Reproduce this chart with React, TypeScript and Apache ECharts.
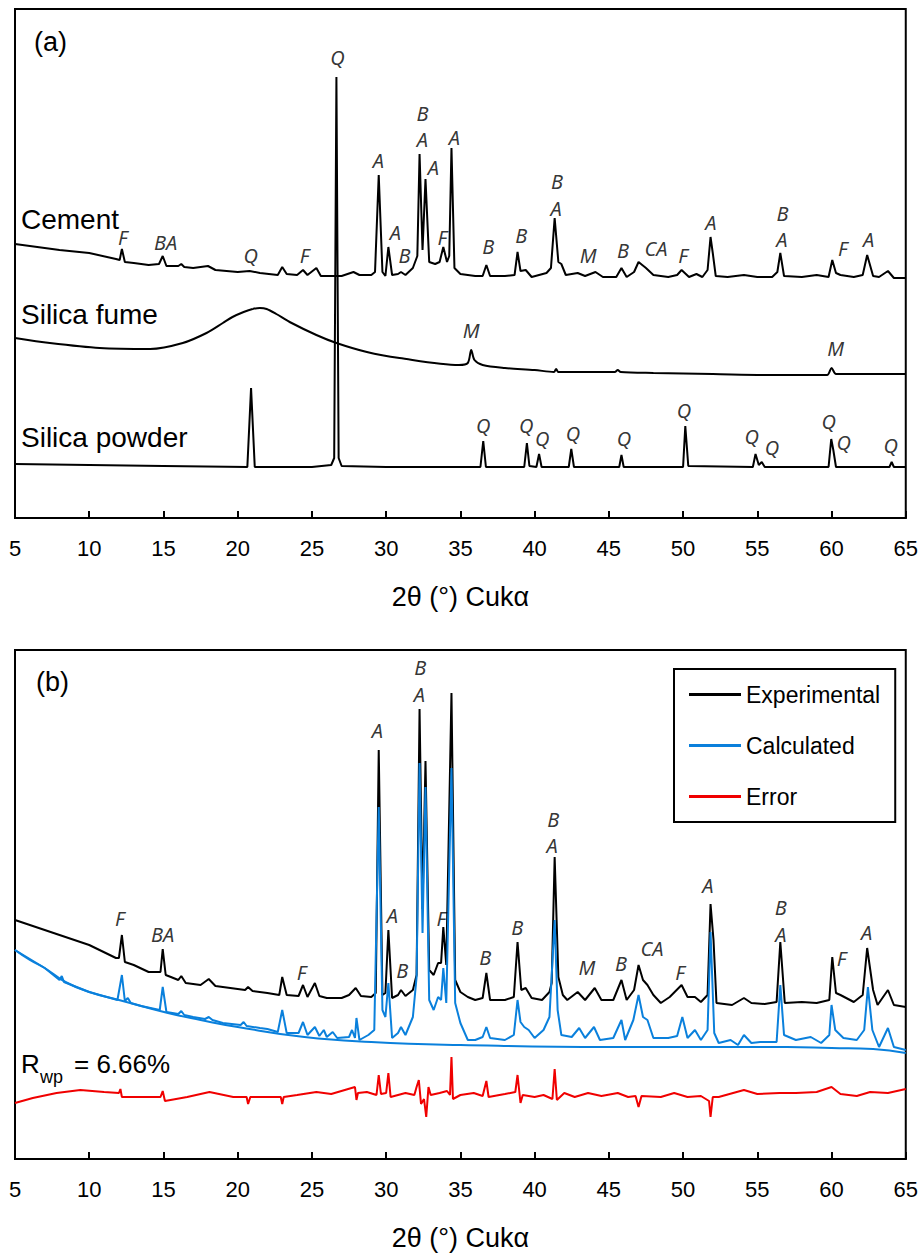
import React, { useEffect, useRef } from "react";
import * as echarts from "echarts";

// ---------- Panel (a) patterns: [2θ, intensity (a.u.)] ----------
const cement: number[][] = [
  [5.0, 274], [6.5, 271], [8.0, 268], [10.0, 265], [11.8, 259], [12.05, 258], [12.2, 269], [12.4, 256], [13.0, 255], [14.0, 253],
  [14.7, 254], [14.95, 262], [15.2, 252], [16.0, 252], [16.2, 254], [16.4, 251], [17.0, 250], [18.0, 252], [18.5, 248], [20.0, 246],
  [20.8, 247], [21.5, 245], [22.7, 243], [23.0, 251], [23.3, 244], [24.0, 243], [24.4, 248], [24.7, 243], [25.3, 250], [25.6, 242],
  [26.5, 242], [27.0, 242], [27.8, 246], [28.2, 243], [29.0, 243], [29.25, 246], [29.5, 343], [29.75, 246], [29.95, 242], [30.15, 271],
  [30.4, 243], [30.8, 244], [31.0, 246], [31.3, 243], [31.8, 250], [32.1, 262], [32.25, 364], [32.45, 268], [32.65, 339], [32.9, 256],
  [33.3, 254], [33.6, 256], [33.85, 271], [34.1, 256], [34.25, 262], [34.4, 370], [34.6, 250], [35.0, 244], [36.0, 242], [36.5, 242],
  [36.75, 253], [37.0, 242], [38.0, 242], [38.65, 243], [38.85, 266], [39.05, 247], [39.4, 248], [39.8, 241], [40.8, 245], [41.1, 250],
  [41.35, 300], [41.6, 256], [41.8, 254], [42.1, 243], [42.9, 245], [43.4, 242], [44.1, 246], [44.6, 241], [45.5, 241], [45.85, 250],
  [46.2, 241], [46.7, 246], [47.0, 256], [47.5, 250], [48.0, 243], [49.0, 241], [49.6, 243], [49.9, 248], [50.4, 241], [50.9, 244],
  [51.3, 241], [51.65, 248], [51.85, 281], [52.0, 265], [52.2, 242], [53.0, 241], [54.1, 243], [55.0, 241], [56.0, 241], [56.35, 246],
  [56.55, 265], [56.8, 242], [58.0, 241], [59.0, 243], [59.8, 241], [60.05, 258], [60.3, 245], [60.6, 243], [61.5, 241], [62.1, 243],
  [62.4, 263], [62.8, 242], [63.2, 241], [63.8, 247], [64.2, 240], [65.0, 240],
];

const silicaFume: number[][] = [
  [5.0, 180], [7.35, 175], [10.7, 170], [14.1, 169], [16.3, 175], [17.9, 185], [19.0, 195], [19.65, 201], [20.4, 206], [21.0, 209],
  [21.5, 210], [21.95, 209], [22.6, 204], [23.5, 196], [25.3, 183], [26.65, 175], [28.7, 166], [30.9, 160], [34.9, 153], [35.5, 155],
  [35.73, 168], [35.95, 158], [36.5, 153], [38.0, 150], [40.0, 148], [41.3, 146], [41.45, 149], [41.6, 146], [44.0, 146], [45.4, 146],
  [45.6, 148], [45.8, 146], [48.0, 145], [52.0, 144], [56.0, 143], [59.7, 143], [60.0, 150], [60.3, 144], [62.0, 144], [65.0, 144],
];

const silicaPowder: number[][] = [
  [5.0, 54], [10.0, 53], [15.0, 52], [20.65, 51], [20.9, 130], [21.15, 51], [22.0, 51], [25.0, 51], [26.3, 53], [26.5, 60],
  [26.65, 441], [26.8, 60], [27.0, 52], [30.0, 51], [36.35, 51], [36.54, 77], [36.72, 51], [39.3, 51], [39.48, 75], [39.65, 52],
  [40.12, 51], [40.3, 64], [40.47, 51], [42.3, 51], [42.47, 69], [42.65, 51], [45.7, 51], [45.85, 63], [46.0, 51], [50.0, 51],
  [50.15, 92], [50.35, 52], [54.7, 51], [54.88, 64], [55.1, 53], [55.3, 56], [55.5, 51], [59.8, 51], [59.98, 79], [60.12, 68],
  [60.3, 51], [63.9, 51], [64.05, 56], [64.2, 51], [65.0, 51],
];

// ---------- Panel (b) Rietveld refinement: [2θ, intensity (a.u.)] ----------
const experimental: number[][] = [
  [5.0, 239], [6.0, 234], [8.0, 224], [10.0, 214], [11.8, 201], [12.0, 201], [12.2, 224], [12.4, 197], [13.0, 194], [14.0, 187],
  [14.8, 187], [14.95, 210], [15.15, 184], [15.5, 182], [16.0, 179], [16.2, 183], [16.5, 176], [17.5, 174], [18.05, 180], [18.5, 173],
  [19.5, 171], [20.5, 169], [20.7, 172], [21.0, 168], [22.0, 166], [22.8, 164], [23.0, 182], [23.3, 164], [24.1, 163], [24.4, 174],
  [24.7, 162], [25.2, 176], [25.5, 163], [26.0, 161], [27.0, 161], [27.5, 164], [27.95, 171], [28.3, 163], [29.0, 162], [29.3, 166],
  [29.5, 409], [29.75, 164], [29.95, 166], [30.15, 229], [30.4, 161], [30.8, 164], [31.0, 169], [31.3, 163], [31.8, 169], [32.05, 184],
  [32.25, 450], [32.45, 250], [32.65, 398], [32.9, 189], [33.2, 184], [33.5, 196], [33.7, 196], [33.85, 232], [34.05, 194], [34.4, 466],
  [34.65, 179], [35.0, 167], [35.5, 162], [36.0, 159], [36.5, 161], [36.75, 186], [37.0, 159], [38.0, 159], [38.6, 162], [38.85, 217],
  [39.1, 169], [39.4, 171], [39.8, 161], [40.5, 159], [41.0, 167], [41.15, 176], [41.35, 302], [41.6, 182], [41.9, 164], [42.2, 159],
  [42.9, 167], [43.4, 159], [44.05, 171], [44.5, 159], [45.3, 159], [45.85, 179], [46.2, 159], [46.7, 169], [47.0, 194], [47.3, 179],
  [47.6, 174], [48.0, 164], [48.5, 156], [49.1, 162], [49.9, 174], [50.3, 162], [50.8, 162], [51.2, 157], [51.65, 164], [51.85, 255],
  [52.05, 219], [52.25, 156], [53.3, 154], [54.1, 161], [54.6, 156], [55.5, 155], [56.3, 157], [56.55, 217], [56.85, 156], [58.0, 157],
  [59.0, 156], [59.85, 159], [60.05, 202], [60.3, 166], [60.6, 164], [61.5, 157], [62.1, 164], [62.4, 211], [62.8, 169], [63.1, 154],
  [63.8, 169], [64.2, 154], [65.0, 152],
];

const calculated: number[][] = [
  [5.0, 209], [7.0, 191], [8.0, 179], [8.15, 183], [8.3, 177], [10.0, 167], [11.9, 159], [12.2, 184], [12.4, 158], [12.6, 161],
  [12.8, 156], [13.5, 153], [14.75, 149], [14.95, 172], [15.2, 147], [16.0, 145], [16.2, 148], [16.4, 144], [17.0, 142], [17.8, 140],
  [18.05, 142], [18.3, 139], [19.0, 136], [20.2, 134], [20.4, 137], [20.6, 133], [21.5, 131], [22.0, 130], [22.7, 127], [23.0, 149],
  [23.3, 126], [24.1, 126], [24.4, 137], [24.7, 124], [25.2, 132], [25.5, 123], [25.8, 129], [26.0, 122], [26.4, 127], [26.7, 121],
  [27.5, 122], [27.7, 129], [27.9, 121], [28.0, 141], [28.2, 119], [28.8, 124], [29.2, 129], [29.5, 352], [29.75, 149], [29.95, 142],
  [30.15, 176], [30.4, 121], [30.8, 126], [31.0, 132], [31.3, 124], [31.8, 142], [32.05, 182], [32.25, 396], [32.45, 226], [32.65, 372],
  [32.9, 159], [33.2, 149], [33.5, 162], [33.7, 159], [33.85, 191], [34.05, 156], [34.4, 391], [34.65, 156], [35.0, 136], [35.5, 119],
  [36.0, 119], [36.5, 122], [36.75, 132], [37.0, 121], [38.0, 119], [38.6, 124], [38.85, 159], [39.05, 137], [39.3, 132], [39.6, 129],
  [40.0, 121], [40.6, 129], [41.0, 142], [41.35, 239], [41.55, 149], [41.8, 124], [42.5, 122], [43.0, 131], [43.4, 121], [44.0, 132],
  [44.4, 119], [45.3, 121], [45.85, 139], [46.1, 119], [46.65, 139], [47.0, 164], [47.3, 142], [47.6, 139], [48.0, 121], [49.0, 121],
  [49.6, 123], [49.95, 142], [50.3, 121], [50.8, 129], [51.2, 119], [51.65, 129], [51.85, 227], [52.1, 126], [52.4, 116], [53.2, 119],
  [53.7, 114], [54.1, 124], [54.6, 116], [55.2, 117], [56.3, 117], [56.55, 174], [56.8, 124], [57.6, 119], [58.6, 122], [59.3, 116],
  [59.85, 124], [60.0, 154], [60.25, 129], [60.8, 121], [61.7, 119], [62.2, 129], [62.45, 172], [62.75, 129], [63.2, 112], [63.8, 131],
  [64.2, 112], [65.0, 109],
];

const background: number[][] = [
  [5.0, 209], [6.0, 199], [7.0, 191], [8.4, 177], [10.0, 167], [12.0, 159], [15.3, 146], [17.5, 139], [20.0, 132], [24.5, 122],
  [29.0, 117], [35.0, 114], [45.0, 112], [57.0, 112], [60.0, 111], [62.8, 110], [65.0, 106],
];

const errorCurve: number[][] = [
  [5.0, 56], [6.2, 61], [7.8, 66], [9.4, 69], [11.0, 67], [12.0, 66], [12.1, 70], [12.2, 62], [13.4, 62], [14.8, 62],
  [14.95, 68], [15.1, 58], [16.6, 62], [18.1, 67], [19.7, 62], [20.6, 62], [20.7, 55], [20.85, 62], [22.0, 62], [22.9, 62],
  [23.0, 55], [23.1, 62], [24.0, 64], [25.3, 67], [26.3, 65], [27.9, 72], [28.0, 59], [28.1, 66], [28.7, 67], [29.35, 64],
  [29.5, 84], [29.65, 65], [30.0, 66], [30.15, 86], [30.3, 62], [31.3, 66], [31.9, 64], [32.05, 72], [32.2, 79], [32.35, 55],
  [32.55, 60], [32.7, 42], [32.85, 72], [33.0, 64], [33.6, 66], [34.1, 68], [34.3, 64], [34.4, 102], [34.5, 60], [35.0, 64],
  [35.9, 66], [36.5, 63], [36.75, 78], [36.9, 62], [38.0, 65], [38.7, 67], [38.85, 84], [39.05, 56], [39.2, 64], [40.0, 62],
  [40.6, 64], [41.2, 60], [41.35, 90], [41.5, 59], [42.0, 66], [42.7, 62], [43.6, 66], [44.5, 63], [45.6, 66], [46.3, 62],
  [46.8, 63], [47.0, 52], [47.2, 63], [48.5, 62], [49.4, 66], [50.3, 62], [51.2, 63], [51.75, 58], [51.85, 42], [52.0, 62],
  [52.4, 62], [54.1, 69], [55.0, 65], [56.5, 66], [57.6, 66], [59.0, 67], [60.0, 72], [60.6, 65], [61.7, 63], [62.6, 67],
  [63.8, 66], [65.0, 70],
];

// ---------- Phase labels: [2θ, intensity, phase] ----------
const peakLabelsA: [number, number, string][] = [
  [12.26, 281, "F"], [15.15, 276, "BA"], [20.87, 263, "Q"], [24.5, 263, "F"], [26.72, 461, "Q"], [29.48, 358, "A"],
  [30.62, 286, "A"], [31.23, 263, "B"], [32.44, 405, "B"], [32.44, 379, "A"], [33.18, 351, "A"], [33.78, 281, "F"],
  [34.59, 381, "A"], [36.88, 272, "B"], [39.1, 283, "B"], [41.5, 337, "B"], [41.45, 310, "A"], [43.6, 263, "M"],
  [45.96, 268, "B"], [48.17, 270, "CA"], [49.99, 263, "F"], [51.87, 296, "A"], [56.7, 305, "B"], [56.65, 279, "A"],
  [60.75, 270, "F"], [62.5, 279, "A"],
  [35.73, 188, "M"], [60.28, 170, "M"],
  [36.54, 93, "Q"], [39.43, 93, "Q"], [40.51, 80, "Q"], [42.59, 85, "Q"], [46.02, 80, "Q"], [50.06, 108, "Q"],
  [54.63, 82, "Q"], [55.98, 71, "Q"], [59.81, 97, "Q"], [60.82, 76, "Q"], [63.98, 73, "Q"],
];

const peakLabelsB: [number, number, string][] = [
  [12.06, 241, "F"], [14.95, 225, "BA"], [24.3, 187, "F"], [29.41, 429, "A"], [30.42, 244, "A"], [31.09, 189, "B"],
  [32.3, 492, "B"], [32.24, 465, "A"], [33.72, 241, "F"], [36.67, 202, "B"], [38.83, 232, "B"], [41.25, 340, "B"],
  [41.18, 314, "A"], [43.53, 192, "M"], [45.82, 196, "B"], [47.9, 211, "CA"], [49.79, 187, "F"], [51.67, 274, "A"],
  [56.58, 252, "B"], [56.58, 225, "A"], [60.68, 201, "F"], [62.36, 227, "A"],
];

const legendNames = ["Experimental", "Calculated", "Error"];
const axisTitle = "2θ (°) Cukα";

const TEXT_FONT = "'Liberation Sans', Arial, sans-serif";
const ITALIC_FONT = "'Noto Sans', 'Liberation Sans', sans-serif";
const BLUE = "#0a80dc";
const RED = "#f00000";

function lineSeries(name: string, data: number[][], idx: number, color: string, smooth: boolean | number = false) {
  return {
    type: "line",
    name,
    xAxisIndex: idx,
    yAxisIndex: idx,
    data,
    showSymbol: false,
    symbol: "none",
    smooth,
    silent: true,
    lineStyle: { color, width: 2 },
    itemStyle: { color },
  };
}

function labelSeries(labels: [number, number, string][], idx: number) {
  return {
    type: "scatter",
    xAxisIndex: idx,
    yAxisIndex: idx,
    silent: true,
    symbolSize: 1,
    itemStyle: { color: "rgba(0,0,0,0)" },
    data: labels.map(([x, y, t]) => ({ value: [x, y], name: t })),
    label: {
      show: true,
      position: "inside",
      formatter: (p: any) => p.name,
      fontFamily: ITALIC_FONT,
      fontStyle: "italic",
      fontSize: 20,
      lineHeight: 20,
      color: "#000",
    },
    z: 5,
  };
}

export default function App() {
  const ref = useRef<HTMLDivElement>(null);
  useEffect(() => {
    if (!ref.current) return;
    const chart = echarts.init(ref.current, undefined, { renderer: "svg" });
    const xAxisBase = (i: number) => ({
      type: "value",
      gridIndex: i,
      min: 5,
      max: 65,
      interval: 5,
      axisLine: { show: true, onZero: false, lineStyle: { color: "#000", width: 2 } },
      axisTick: { show: true, inside: true, length: 7, lineStyle: { color: "#000", width: 2 } },
      axisLabel: { fontSize: 22, color: "#000", margin: 19, fontFamily: TEXT_FONT },
      splitLine: { show: false },
      name: axisTitle,
      nameLocation: "middle",
      nameGap: 65,
      nameTextStyle: { fontSize: 27, color: "#000", fontFamily: TEXT_FONT },
    });
    const yAxisBase = (i: number) => ({
      type: "value",
      gridIndex: i,
      min: 0,
      max: 509,
      show: false,
      splitLine: { show: false },
    });
    const txt = (text: string, x: number, y: number, size: number) => ({
      type: "text",
      x,
      y,
      silent: true,
      style: {
        text,
        fill: "#000",
        fontSize: size,
        fontFamily: TEXT_FONT,
        align: "left",
        verticalAlign: "middle",
      },
      z: 10,
    });
    chart.setOption({
      animation: false,
      backgroundColor: "#ffffff",
      grid: [
        { left: 15, top: 9, width: 892, height: 509, show: true, borderColor: "#000", borderWidth: 2 },
        { left: 15, top: 650, width: 892, height: 509, show: true, borderColor: "#000", borderWidth: 2 },
      ],
      xAxis: [xAxisBase(0), xAxisBase(1)],
      yAxis: [yAxisBase(0), yAxisBase(1)],
      legend: {
        data: legendNames,
        orient: "vertical",
        left: 674,
        top: 669,
        padding: [14, 15, 14, 15],
        itemGap: 28,
        itemWidth: 52,
        itemHeight: 3,
        icon: "rect",
        borderColor: "#000",
        borderWidth: 2,
        textStyle: { fontSize: 23, color: "#000", fontFamily: TEXT_FONT },
        selectedMode: false,
      },
      series: [
        lineSeries("Cement", cement, 0, "#000"),
        lineSeries("Silica fume", silicaFume, 0, "#000", 0.3),
        lineSeries("Silica powder", silicaPowder, 0, "#000"),
        labelSeries(peakLabelsA, 0),
        lineSeries("Experimental", experimental, 1, "#000"),
        lineSeries("Calculated", calculated, 1, BLUE),
        lineSeries("Background", background, 1, BLUE, true),
        lineSeries("Error", errorCurve, 1, RED),
        labelSeries(peakLabelsB, 1),
      ],
      graphic: [
        txt("(a)", 34, 42, 27),
        txt("(b)", 36, 682, 27),
        txt("Cement", 21, 219, 28),
        txt("Silica fume", 21, 314, 28),
        txt("Silica powder", 21, 437, 28),
        txt("R", 21, 1064, 26),
        txt("wp", 40, 1077, 18),
        txt("= 6.66%", 74, 1064, 26),
      ],
    });
    return () => chart.dispose();
  }, []);
  return (
    <div
      ref={ref}
      style={{ position: "absolute", left: 0, top: 0, width: 921, height: 1253, background: "#fff" }}
    />
  );
}
